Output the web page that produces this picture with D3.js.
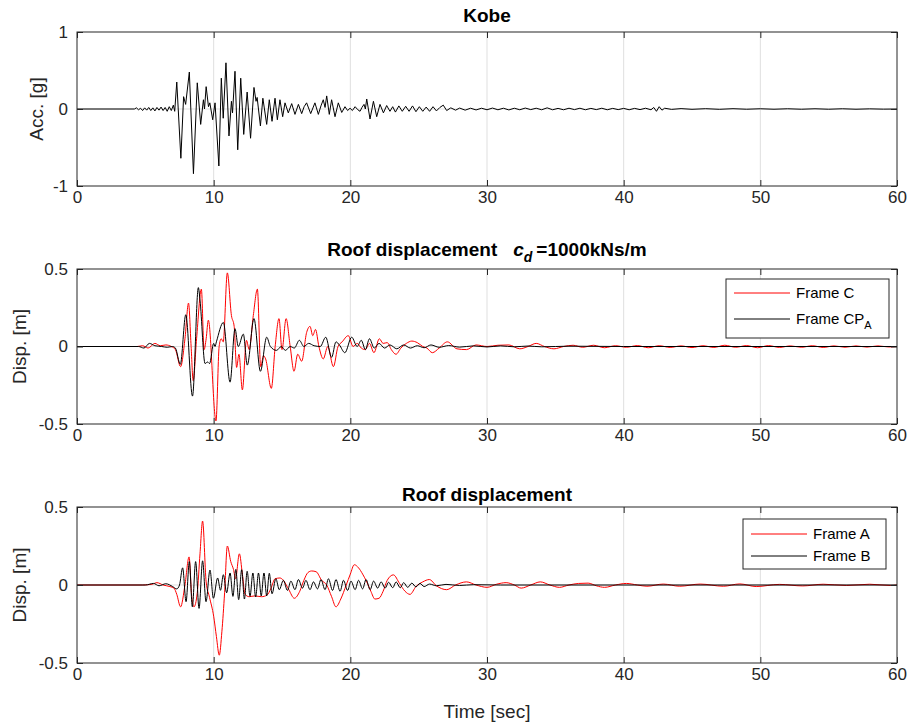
<!DOCTYPE html>
<html>
<head>
<meta charset="utf-8">
<script src="https://cdn.jsdelivr.net/npm/d3@7"></script>
<style>
  body { margin: 0; background: #fff; }
  svg { font-family: "Liberation Sans", Arial, sans-serif; }
</style>
</head>
<body>
<svg id="chart" width="907" height="724"></svg>
<script>
// tick labels
const timeTicks = [0, 10, 20, 30, 40, 50, 60];
const accTicks = [-1, 0, 1];
const dispTicks = [-0.5, 0, 0.5];

// Kobe ground acceleration [g] as (time, value)
const kobeAcc = [
  [0,0],[4.2,0],[4.35,0.015],[4.5,-0.01],[4.65,0.01],[4.8,-0.02],[4.95,0.015],[5.1,-0.015],[5.25,0.02],
  [5.4,-0.02],[5.55,0.015],[5.7,-0.025],[5.85,0.02],[6.0,-0.015],[6.15,0.025],[6.3,-0.02],[6.45,0.02],
  [6.6,-0.03],[6.75,0.03],[6.9,-0.02],[7.05,0.05],[7.15,-0.03],[7.3,0.35],[7.6,-0.64],[7.8,0.16],
  [7.95,0.06],[8.22,0.48],[8.52,-0.84],[8.8,0.34],[9.05,-0.2],[9.25,0.12],[9.33,0.0],[9.45,0.29],
  [9.62,0.03],[9.72,0.08],[9.93,-0.14],[10.1,0.08],[10.38,-0.74],[10.56,0.4],[10.7,-0.12],[10.9,0.6],
  [11.12,-0.35],[11.3,0.1],[11.38,-0.05],[11.56,0.49],[11.76,-0.53],[11.98,0.4],[12.2,-0.33],[12.45,0.22],
  [12.7,-0.38],[12.95,0.28],[13.1,0.1],[13.18,0.15],[13.42,-0.22],[13.6,0.14],[13.88,-0.2],[14.07,0.12],
  [14.27,-0.16],[14.49,0.14],[14.66,-0.14],[14.85,0.12],[15.05,-0.1],[15.22,0.08],[15.46,-0.05],[15.71,0.07],
  [15.95,-0.07],[16.2,0.06],[16.44,-0.06],[16.62,0.03],[16.8,0.08],[17.1,-0.06],[17.41,0.08],[17.66,-0.07],
  [17.85,0.04],[18.02,0.12],[18.15,0.02],[18.27,0.17],[18.46,-0.07],[18.63,0.12],[18.88,-0.1],[19.12,0.08],
  [19.37,-0.045],[19.61,0.03],[19.8,-0.02],[19.98,0.01],[20.15,-0.02],[20.35,0.03],[20.55,-0.01],[20.71,-0.03],
  [20.85,0.02],[21.0,0.06],[21.1,0.0],[21.2,0.13],[21.44,-0.13],[21.69,0.1],[21.93,-0.1],[22.17,0.06],
  [22.42,-0.05],[22.66,0.045],[22.9,-0.03],[23.1,0.03],[23.3,-0.04],[23.55,0.04],[23.8,-0.03],[24.05,0.035],
  [24.3,-0.03],[24.55,0.04],[24.8,-0.035],[25.05,0.03],[25.3,-0.03],[25.55,0.025],[25.8,-0.03],[26.05,0.03],
  [26.3,-0.025],[26.55,0.02],[26.8,0.05],[27.05,-0.02],[27.35,0.015],[27.7,-0.015],[28.0,0.012],[28.4,-0.015],
  [28.8,0.01],[29.2,-0.012],[29.6,0.01],[30.0,-0.01],[30.4,0.012],[30.8,-0.01],[31.2,0.01],[31.6,-0.012],
  [32.0,0.01],[32.4,-0.01],[32.8,0.012],[33.2,-0.008],[33.6,0.01],[34.0,-0.01],[34.4,0.015],[34.8,-0.01],
  [35.2,0.008],[35.6,-0.01],[36.0,0.01],[36.4,-0.008],[36.8,0.01],[37.2,-0.01],[37.6,0.008],[38.0,-0.008],
  [38.4,0.01],[38.8,-0.01],[39.2,0.008],[39.6,-0.008],[40.0,0.008],[40.4,-0.01],[40.8,0.008],[41.2,-0.008],
  [41.6,0.01],[42.0,-0.01],[42.2,0.02],[42.4,-0.03],[42.6,0.03],[42.8,-0.015],[43.0,0.01],[43.5,-0.005],
  [44.2,0.005],[45,-0.004],[46,0.004],[47,-0.004],[48,0.004],[49,-0.003],[50,0.003],[51,-0.003],[52,0.003],
  [53,-0.003],[54,0.003],[55,-0.003],[56,0.003],[57,-0.003],[58,0.002],[59,-0.002],[60,0]
];

// roof displacement [m], Frame C
const frameC = [
  [0,0],[4.4,0],[4.8,0.005],[5.2,-0.01],[5.7,0.02],[6.1,0.005],[6.5,0.01],[6.9,0.0],[7.2,-0.02],
  [7.58,-0.13],[7.9,0.05],[8.16,0.28],[8.35,0.0],[8.5,-0.22],[8.75,0.05],[9.1,0.37],[9.3,-0.02],
  [9.45,0.05],[9.61,0.17],[10.17,-0.48],[10.4,0.0],[10.55,0.05],[10.7,0.03],[11.0,0.475],[11.3,0.2],
  [11.5,0.13],[11.68,-0.135],[11.85,-0.05],[12.1,-0.28],[12.4,0.04],[12.6,-0.02],[12.9,0.2],[13.2,0.37],
  [13.44,-0.13],[13.65,-0.06],[13.8,-0.08],[14.22,-0.27],[14.5,0.0],[14.78,0.18],[15.0,-0.02],[15.3,0.18],
  [15.6,0.0],[15.88,-0.16],[16.15,-0.05],[16.44,-0.095],[16.8,0.09],[17.05,0.13],[17.25,0.07],[17.45,0.11],
  [17.7,0.0],[18.02,-0.08],[18.35,0.0],[18.76,-0.13],[19.1,0.0],[19.4,0.03],[19.85,0.07],[20.2,0.0],
  [20.5,0.02],[20.8,-0.01],[21.1,-0.02],[21.4,0.02],[21.73,-0.04],[22.12,0.05],[22.4,0.02],[22.7,0.025],
  [23.0,-0.02],[23.34,-0.05],[23.7,-0.01],[24.1,0.02],[24.5,0.035],[24.9,0.025],[25.3,0.0],[25.6,-0.01],
  [26.0,-0.04],[26.5,-0.01],[27.1,0.03],[27.8,-0.015],[28.5,-0.02],[29.2,0.01],[30.0,0.0],[30.8,0.008],
  [31.6,0.01],[32.4,-0.015],[33.0,0.0],[33.6,0.02],[34.2,0.0],[34.9,-0.015],[35.6,0.0],[36.3,0.008],
  [37.0,-0.005],[37.8,0.008],[38.6,-0.008],[39.4,0.005],[40.2,-0.005],[41,0.006],[41.8,-0.008],[42.6,0.005],
  [43.4,-0.006],[44.2,0.004],[45,-0.007],[45.8,0.005],[46.6,-0.006],[47.4,0.008],[48.2,-0.005],[49,0.006],
  [49.8,-0.008],[50.6,0.006],[51.4,-0.006],[52.2,0.004],[53,-0.005],[53.8,0.005],[54.6,-0.006],[55.4,0.004],
  [56.2,-0.005],[57,0.004],[57.8,-0.004],[58.6,0.004],[59.4,-0.003],[60,0]
];

// roof displacement [m], Frame CP_A
const frameCPA = [
  [0,0],[4.5,0],[4.9,-0.01],[5.3,0.02],[5.7,0.005],[6.2,0.0],[6.6,-0.005],[7.0,0.0],[7.2,-0.01],
  [7.56,-0.115],[7.96,0.205],[8.45,-0.32],[8.88,0.38],[9.0,0.3],[9.37,-0.11],[9.55,-0.1],[9.7,-0.11],
  [10.0,0.02],[10.1,0.0],[10.2,0.03],[10.71,0.155],[11.2,-0.23],[11.56,0.115],[11.8,0.0],[12.17,0.08],
  [12.46,-0.12],[12.95,0.18],[13.42,-0.16],[13.88,0.06],[14.15,0.0],[14.6,-0.025],[14.95,0.0],[15.25,-0.025],
  [15.6,0.0],[15.9,-0.01],[16.27,0.04],[16.6,0.0],[16.95,0.02],[17.35,0.005],[17.8,0.0],[18.2,0.06],
  [18.63,-0.07],[18.95,0.03],[19.2,0.01],[19.6,-0.04],[20.1,0.06],[20.5,0.0],[20.8,0.04],[21.1,-0.02],
  [21.4,0.05],[21.75,-0.01],[22.1,0.02],[22.5,-0.01],[22.9,0.01],[23.4,-0.015],[23.9,0.01],[24.4,-0.01],
  [24.9,0.005],[25.4,-0.008],[25.9,0.01],[26.5,-0.005],[27.2,0.006],[28,-0.004],[29,0.004],[30,-0.003],
  [31,0.004],[32,-0.002],[33,0.003],[34,-0.002],[36,0.002],[40,0],[60,0]
];

// roof displacement [m], Frame A
const frameA = [
  [0,0],[4.8,0],[5.5,0.005],[5.85,0.015],[6.3,0.0],[6.8,-0.01],[7.1,-0.02],[7.3,-0.06],[7.58,-0.14],
  [7.9,0.0],[8.2,0.18],[8.4,-0.08],[8.56,-0.14],[8.8,-0.05],[9.0,0.2],[9.19,0.41],[9.45,0.02],[9.7,-0.08],
  [10.0,-0.2],[10.2,-0.33],[10.41,-0.45],[10.6,-0.3],[10.8,-0.05],[11.0,0.25],[11.25,0.15],[11.45,0.1],
  [11.6,0.04],[11.88,0.2],[12.1,0.07],[12.3,-0.06],[12.6,-0.075],[13.0,-0.07],[13.5,-0.075],[13.9,-0.065],
  [14.2,-0.02],[14.49,0.04],[14.85,0.045],[15.1,0.03],[15.5,-0.03],[15.9,-0.085],[16.3,-0.04],[16.6,0.03],
  [16.9,0.08],[17.17,0.09],[17.5,0.085],[17.9,0.03],[18.27,0.0],[18.63,-0.075],[18.95,-0.14],[19.3,-0.09],
  [19.7,0.0],[20.0,0.07],[20.29,0.13],[20.6,0.11],[20.9,0.07],[21.2,0.02],[21.5,-0.04],[21.8,-0.09],
  [22.1,-0.085],[22.4,-0.04],[22.7,0.03],[23.15,0.065],[23.6,0.01],[24.0,-0.04],[24.37,-0.06],[24.8,-0.01],
  [25.3,0.02],[25.78,0.035],[26.3,-0.005],[27.05,-0.03],[27.7,0.0],[28.5,0.02],[29.2,0.0],[30.0,-0.015],
  [30.7,0.005],[31.4,0.015],[32.0,0.0],[32.5,-0.02],[33.2,0.0],[33.9,0.02],[34.6,0.0],[35.3,-0.015],
  [36.0,0.0],[36.7,0.01],[37.4,0.012],[38.0,-0.005],[38.6,-0.015],[39.4,0.0],[40.2,0.01],[41.0,0.0],
  [41.7,-0.008],[42.9,0.006],[44.1,-0.008],[45.6,0.006],[47.3,-0.008],[48.5,0.007],[49.7,-0.01],[51.4,0.004],
  [53.1,-0.006],[54.6,0.005],[56.3,-0.003],[58.0,0.005],[59.5,-0.003],[60,0]
];

// roof displacement [m], Frame B
const frameB = [
  [0,0],[5.0,0],[5.6,0.01],[6.0,-0.005],[6.5,0.008],[7.0,-0.01],[7.3,-0.025],[7.5,0.0],[7.73,0.11],
  [7.98,-0.107],[8.22,0.15],[8.44,-0.14],[8.68,0.15],[8.93,-0.15],[9.19,0.155],[9.44,-0.107],[9.73,0.096],
  [9.98,-0.085],[10.29,0.045],[10.5,-0.034],[10.71,0.066],[10.95,-0.05],[11.2,0.077],[11.41,-0.073],
  [11.62,0.1],[11.83,-0.094],[12.05,0.098],[12.25,-0.09],[12.45,0.088],[12.66,-0.073],[12.87,0.077],
  [13.07,-0.077],[13.28,0.077],[13.48,-0.07],[13.68,0.077],[13.88,-0.07],[14.07,0.075],[14.27,-0.056],
  [14.55,0.04],[14.8,-0.03],[15.1,0.03],[15.4,-0.035],[15.65,0.025],[15.95,-0.03],[16.2,0.035],[16.5,-0.02],
  [16.75,0.03],[17.05,-0.03],[17.3,0.02],[17.6,-0.025],[17.85,0.035],[18.15,-0.03],[18.4,0.04],[18.7,-0.035],
  [18.95,0.035],[19.25,-0.04],[19.5,0.03],[19.8,-0.035],[20.05,0.025],[20.35,-0.03],[20.6,0.03],[20.9,-0.025],
  [21.15,0.035],[21.45,-0.03],[21.7,0.025],[22.0,-0.02],[22.25,0.02],[22.55,-0.02],[22.8,0.018],[23.1,-0.018],
  [23.35,0.02],[23.65,-0.018],[23.9,0.015],[24.2,-0.015],[24.5,0.012],[24.8,-0.012],[25.1,0.01],[25.4,-0.01],
  [25.8,0.006],[26.3,-0.005],[27,0.004],[28,-0.003],[29,0.002],[31,0],[60,0]
];

const svg = d3.select('#chart');
const left = 77, right = 897;
const axisColor = '#262626';
const gridColor = '#dfdfdf';
const tickFont = 17, labelFont = 19, titleFont = 19, legendFont = 15;

const x = d3.scaleLinear().domain([0, 60]).range([left, right]);

const panels = [
  { top: 32, bottom: 186, domain: [-1, 1], ticks: accTicks, ylabel: 'Acc. [g]', ylabelX: 36,
    curve: d3.curveLinear, series: [{ data: kobeAcc, color: '#000' }] },
  { top: 269, bottom: 424, domain: [-0.5, 0.5], ticks: dispTicks, ylabel: 'Disp. [m]', ylabelX: 19,
    curve: d3.curveMonotoneX, series: [{ data: frameC, color: '#ff0000' }, { data: frameCPA, color: '#000' }] },
  { top: 507, bottom: 663, domain: [-0.5, 0.5], ticks: dispTicks, ylabel: 'Disp. [m]', ylabelX: 19,
    curve: d3.curveMonotoneX, series: [{ data: frameA, color: '#ff0000' }, { data: frameB, color: '#000' }] }
];

panels.forEach((p, i) => {
  const y = d3.scaleLinear().domain(p.domain).range([p.bottom, p.top]);
  const g = svg.append('g');

  g.append('rect').attr('x', left).attr('y', p.top).attr('width', right - left)
    .attr('height', p.bottom - p.top).attr('fill', '#fff');

  // grid
  g.append('g').selectAll('line').data(timeTicks.slice(1, -1)).join('line')
    .attr('x1', d => x(d)).attr('x2', d => x(d)).attr('y1', p.top).attr('y2', p.bottom)
    .attr('stroke', gridColor).attr('stroke-width', 1);
  g.append('g').selectAll('line').data(p.ticks.slice(1, -1)).join('line')
    .attr('x1', left).attr('x2', right).attr('y1', d => y(d)).attr('y2', d => y(d))
    .attr('stroke', gridColor).attr('stroke-width', 1);

  // series
  const clipId = 'clip' + i;
  g.append('clipPath').attr('id', clipId).append('rect')
    .attr('x', left).attr('y', p.top).attr('width', right - left).attr('height', p.bottom - p.top);
  const line = d3.line().x(d => x(d[0])).y(d => y(d[1])).curve(p.curve);
  p.series.forEach(s => {
    g.append('path').datum(s.data).attr('d', line).attr('fill', 'none')
      .attr('stroke', s.color).attr('stroke-width', 1).attr('clip-path', `url(#${clipId})`);
  });

  // axes (ticks point inward, like MATLAB)
  const styleAxis = sel => {
    sel.select('.domain').remove();
    sel.selectAll('line').attr('stroke', axisColor);
    sel.selectAll('text').attr('fill', axisColor).attr('font-size', tickFont)
      .attr('font-family', '"Liberation Sans", Arial, sans-serif');
  };
  g.append('g').attr('transform', `translate(0,${p.bottom})`)
    .call(d3.axisBottom(x).tickValues(timeTicks).tickSizeInner(-6).tickSizeOuter(0).tickPadding(5)
      .tickFormat(d => String(d)))
    .call(styleAxis);
  g.append('g').attr('transform', `translate(0,${p.top})`)
    .call(d3.axisTop(x).tickValues(timeTicks).tickSizeInner(-6).tickSizeOuter(0).tickFormat(''))
    .call(styleAxis);
  g.append('g').attr('transform', `translate(${left},0)`)
    .call(d3.axisLeft(y).tickValues(p.ticks).tickSizeInner(-6).tickSizeOuter(0).tickPadding(9)
      .tickFormat(d => String(d)))
    .call(styleAxis);
  g.append('g').attr('transform', `translate(${right},0)`)
    .call(d3.axisRight(y).tickValues(p.ticks).tickSizeInner(-6).tickSizeOuter(0).tickFormat(''))
    .call(styleAxis);

  g.append('rect').attr('x', left).attr('y', p.top).attr('width', right - left)
    .attr('height', p.bottom - p.top).attr('fill', 'none').attr('stroke', axisColor).attr('stroke-width', 1);

  // y label
  g.append('text').attr('transform', `translate(${p.ylabelX},${(p.top + p.bottom) / 2}) rotate(-90)`)
    .attr('text-anchor', 'middle').attr('dy', '0.35em').attr('font-size', labelFont).attr('fill', axisColor)
    .text(p.ylabel);
});

// titles
const cx = (left + right) / 2;
svg.append('text').attr('x', cx).attr('y', 22).attr('text-anchor', 'middle')
  .attr('font-size', titleFont).attr('font-weight', 'bold').attr('fill', '#000').text('Kobe');

const t2 = svg.append('text').attr('x', cx).attr('y', 256).attr('text-anchor', 'middle')
  .attr('font-size', titleFont).attr('font-weight', 'bold').attr('fill', '#000');
t2.append('tspan').text('Roof displacement');
t2.append('tspan').attr('dx', 16).attr('font-style', 'italic').text('c');
t2.append('tspan').attr('font-style', 'italic').attr('font-size', 14).attr('dy', 6).text('d');
t2.append('tspan').attr('dy', -6).attr('dx', 4).text('=1000kNs/m');

svg.append('text').attr('x', cx).attr('y', 501).attr('text-anchor', 'middle')
  .attr('font-size', titleFont).attr('font-weight', 'bold').attr('fill', '#000').text('Roof displacement');

// x label
svg.append('text').attr('x', cx).attr('y', 718).attr('text-anchor', 'middle')
  .attr('font-size', labelFont).attr('fill', axisColor).text('Time [sec]');

// legends
function legend(box, entries) {
  const lg = svg.append('g');
  lg.append('rect').attr('x', box.x).attr('y', box.y).attr('width', box.w).attr('height', box.h)
    .attr('fill', '#fff').attr('stroke', axisColor).attr('stroke-width', 1);
  entries.forEach((e, k) => {
    const yy = box.y + box.first + k * box.step;
    lg.append('line').attr('x1', box.x + 8).attr('x2', box.x + 64).attr('y1', yy).attr('y2', yy)
      .attr('stroke', e.color).attr('stroke-width', 1);
    const t = lg.append('text').attr('x', box.x + 70).attr('y', yy).attr('dy', '0.35em')
      .attr('font-size', legendFont).attr('fill', '#000');
    t.append('tspan').text(e.label);
    if (e.sub) t.append('tspan').attr('font-size', 11).attr('dy', 5).text(e.sub);
  });
}
legend({ x: 726, y: 279, w: 163, h: 59, first: 14, step: 26 },
  [{ label: 'Frame C', color: '#ff0000' }, { label: 'Frame CP', sub: 'A', color: '#000' }]);
legend({ x: 743, y: 519, w: 143, h: 50, first: 15, step: 22 },
  [{ label: 'Frame A', color: '#ff0000' }, { label: 'Frame B', color: '#000' }]);
</script>
</body>
</html>
